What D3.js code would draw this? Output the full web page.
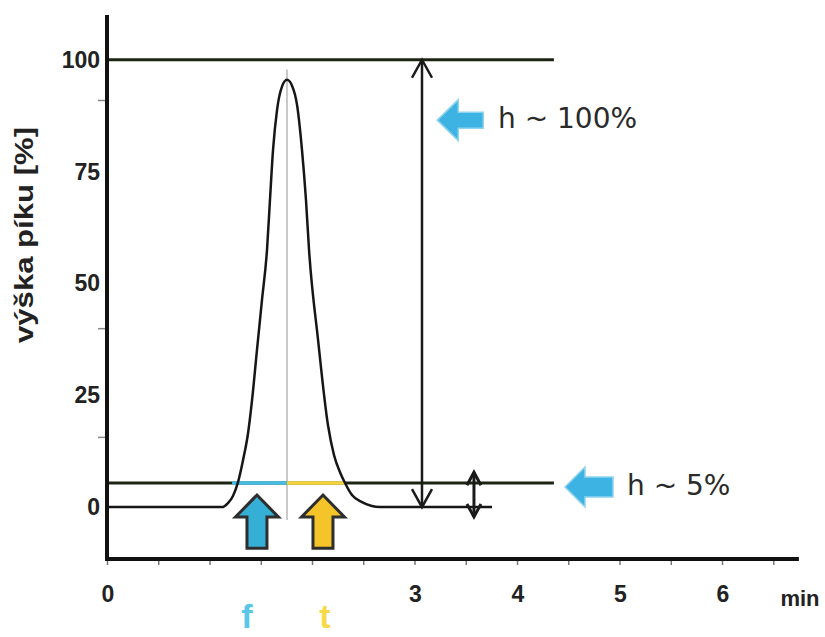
<!DOCTYPE html>
<meta charset="utf-8">
<style>
  body { margin: 0; background: #fff; }
  text { font-family: "Liberation Sans", Arial, sans-serif; }
</style>
<body>
  <script src="https://cdn.jsdelivr.net/npm/d3@7"></script>
  <script>
    // peak trace (time in min, height in %)
    var peakTime = [0, 1.122, 1.18, 1.229, 1.278, 1.327, 1.376, 1.415, 1.463, 1.512, 1.561, 1.59, 1.62, 1.659, 1.707,
      1.756, 1.805, 1.854, 1.902, 1.941, 1.971, 2.059, 2.156, 2.215, 2.273, 2.322, 2.39, 2.488, 2.663, 3.756];
    var peakHeight = [0, 0, 0.9, 2.5, 5.6, 10.5, 16.5, 23.9, 35.1, 46.3, 57.5, 68.7, 79.9, 88.8, 94.0,
      95.5, 94.2, 89.9, 79.9, 68.7, 57.5, 37.4, 18.3, 11.6, 7.8, 5.4, 2.7, 1.1, 0, 0];

    var apexTime = 1.756;
    var levelFull = 100, levelFive = 5.4;
    var levelEnd = 4.36;          // right end of the two reference lines
    var frontStart = 1.22, tailEnd = 2.32;

    var xTicks = d3.range(0, 6.6, 0.5);
    var xLabels = [0, 3, 4, 5, 6];
    var yLabels = [0, 25, 50, 75, 100];
    var yMinorTicks = [91, 40, 15.7];

    var svg = d3.select("body").append("svg")
      .attr("width", 825)
      .attr("height", 637);

    var x = d3.scaleLinear().domain([0, 6.75]).range([107, 798.9]),
      y = d3.scaleLinear().domain([-11.6, 110]).range([559, 15]);

    // vertical line through apex
    svg.append("line")
      .attr("x1", x(apexTime)).attr("x2", x(apexTime))
      .attr("y1", y(97.8)).attr("y2", y(-2.9))
      .style("stroke", "#c9c9c9")
      .style("stroke-width", 2);

    // 100 % and 5 % reference lines
    [levelFull, levelFive].forEach(function(v) {
      svg.append("line")
        .attr("x1", x(0)).attr("x2", x(levelEnd))
        .attr("y1", y(v)).attr("y2", y(v))
        .style("stroke", "#1c2414")
        .style("stroke-width", 3);
    });

    // front (f) and tail (t) segments
    svg.append("line")
      .attr("x1", x(frontStart)).attr("x2", x(apexTime))
      .attr("y1", y(levelFive)).attr("y2", y(levelFive))
      .style("stroke", "#45bde2").style("stroke-width", 3.5);
    svg.append("line")
      .attr("x1", x(apexTime)).attr("x2", x(tailEnd))
      .attr("y1", y(levelFive)).attr("y2", y(levelFive))
      .style("stroke", "#f5d43a").style("stroke-width", 3.5);

    // the peak
    var line = d3.line()
      .x(function(d) { return x(d[0]); })
      .y(function(d) { return y(d[1]); })
      .curve(d3.curveMonotoneX);

    svg.append("path")
      .datum(d3.zip(peakTime, peakHeight))
      .attr("d", line)
      .style("fill", "none")
      .style("stroke", "#161616")
      .style("stroke-width", 2.5);

    // axes
    var gx = svg.append("g")
      .attr("transform", "translate(0," + y(-11.6) + ")")
      .call(d3.axisBottom(x).tickValues(xTicks).tickSize(6).tickFormat(""));
    gx.select(".domain").remove();
    gx.selectAll(".tick line").style("stroke", "#777").style("stroke-width", 1.5);

    var gy = svg.append("g")
      .attr("transform", "translate(" + x(0) + ",0)")
      .call(d3.axisLeft(y).tickValues(yMinorTicks).tickSize(9).tickFormat(""));
    gy.select(".domain").remove();
    gy.selectAll(".tick line").style("stroke", "#888").style("stroke-width", 1.5);

    svg.append("line")
      .attr("x1", x(0)).attr("x2", x(0))
      .attr("y1", y(110)).attr("y2", y(-11.6) + 2)
      .style("stroke", "#111").style("stroke-width", 4);
    svg.append("line")
      .attr("x1", x(0) - 2).attr("x2", x(6.75))
      .attr("y1", y(-11.6)).attr("y2", y(-11.6))
      .style("stroke", "#111").style("stroke-width", 4);

    svg.selectAll(".ylab")
      .data(yLabels)
      .enter().append("text")
      .attr("x", x(0) - 7)
      .attr("y", function(d) { return y(d) + 8; })
      .attr("text-anchor", "end")
      .style("font-size", "23px")
      .style("font-weight", "bold")
      .style("fill", "#222")
      .text(function(d) { return d; });

    svg.selectAll(".xlab")
      .data(xLabels)
      .enter().append("text")
      .attr("x", function(d) { return x(d) + 1; })
      .attr("y", 602)
      .attr("text-anchor", "middle")
      .style("font-size", "23px")
      .style("font-weight", "bold")
      .style("fill", "#222")
      .text(function(d) { return d; });

    svg.append("text")
      .attr("x", 800).attr("y", 606)
      .attr("text-anchor", "middle")
      .style("font-size", "22px")
      .style("font-weight", "bold")
      .style("fill", "#222")
      .text("min");

    svg.append("text")
      .attr("transform", "translate(33,235) rotate(-90)")
      .attr("text-anchor", "middle")
      .attr("textLength", 216)
      .attr("lengthAdjust", "spacingAndGlyphs")
      .style("font-size", "25px")
      .style("font-weight", "bold")
      .style("fill", "#222")
      .text("výška píku [%]");

    // f / t letters
    svg.append("text")
      .attr("x", x(1.366)).attr("y", 628)
      .attr("text-anchor", "middle")
      .style("font-size", "34px").style("font-weight", "bold")
      .style("fill", "#5ac6e8")
      .text("f");
    svg.append("text")
      .attr("x", x(2.127)).attr("y", 628)
      .attr("text-anchor", "middle")
      .style("font-size", "34px").style("font-weight", "bold")
      .style("fill", "#f6da48")
      .text("t");

    // block arrows
    function upArrow(cx, ty, by, fill) {
      var hw = 21.5, hl = 22, sw = 10;
      var p = d3.path();
      p.moveTo(cx, ty);
      p.lineTo(cx + hw, ty + hl);
      p.lineTo(cx + sw, ty + hl);
      p.lineTo(cx + sw, by);
      p.lineTo(cx - sw, by);
      p.lineTo(cx - sw, ty + hl);
      p.lineTo(cx - hw, ty + hl);
      p.closePath();
      svg.append("path").attr("d", p.toString())
        .style("fill", fill)
        .style("stroke", "#2e2e2e")
        .style("stroke-width", 3)
        .style("stroke-linejoin", "miter");
    }
    upArrow(x(1.463), y(2.7), y(-9.2), "#35afd6");
    upArrow(x(2.107), y(2.7), y(-9.2), "#f5c429");

    function leftArrow(tx, cy, len, hw, sw, hl) {
      var p = d3.path();
      p.moveTo(tx, cy);
      p.lineTo(tx + hl, cy - hw);
      p.lineTo(tx + hl, cy - sw);
      p.lineTo(tx + len, cy - sw);
      p.lineTo(tx + len, cy + sw);
      p.lineTo(tx + hl, cy + sw);
      p.lineTo(tx + hl, cy + hw);
      p.closePath();
      svg.append("path").attr("d", p.toString())
        .style("fill", "#3cb3e2")
        .style("stroke", "#8fd3ef")
        .style("stroke-width", 1.5);
    }
    leftArrow(x(3.222), y(86.5), 46, 20.5, 8, 21);
    leftArrow(x(4.468), y(4.5), 48, 20, 10, 20);

    // double-headed height arrows
    function dblArrow(t, v1, v2, hw, hl, sw) {
      var ax = x(t), y1 = y(v1), y2 = y(v2);
      var g = svg.append("g")
        .style("fill", "none")
        .style("stroke", "#1a1a1a")
        .style("stroke-width", sw);
      g.append("line").attr("x1", ax).attr("x2", ax).attr("y1", y1).attr("y2", y2);
      g.append("path").attr("d", "M" + (ax - hw) + "," + (y1 + hl) + "L" + ax + "," + y1 + "L" + (ax + hw) + "," + (y1 + hl));
      g.append("path").attr("d", "M" + (ax - hw) + "," + (y2 - hl) + "L" + ax + "," + y2 + "L" + (ax + hw) + "," + (y2 - hl));
    }
    dblArrow(3.073, 100, 0, 10, 18, 2.5);
    dblArrow(3.58, 7.8, -2.2, 7, 13, 3);

    // annotation texts
    svg.append("text")
      .attr("x", 498).attr("y", 128)
      .style("font-family", "'DejaVu Sans', sans-serif")
      .style("font-size", "28px")
      .style("fill", "#2a2a2a")
      .text("h ~ 100%");
    svg.append("text")
      .attr("x", 627).attr("y", 495)
      .style("font-family", "'DejaVu Sans', sans-serif")
      .style("font-size", "28px")
      .style("fill", "#2a2a2a")
      .text("h ~ 5%");
  </script>
</body>
</html>
